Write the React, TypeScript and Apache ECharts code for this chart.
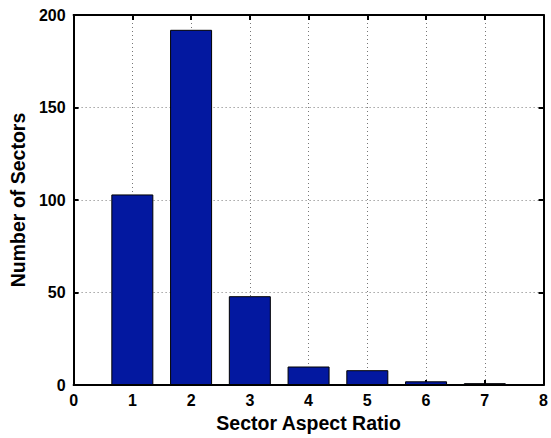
import React, { useEffect, useRef } from "react";
import * as echarts from "echarts";

const categories = [1, 2, 3, 4, 5, 6, 7];
const counts = [103, 192, 48, 10, 8, 2, 1];
const xTicks = [0, 1, 2, 3, 4, 5, 6, 7, 8];
const yTicks = [0, 50, 100, 150, 200];

const FONT = "'Liberation Sans', Arial, sans-serif";

export default function App() {
  const ref = useRef<HTMLDivElement>(null);
  useEffect(() => {
    if (!ref.current) return;
    const chart = echarts.init(ref.current, undefined, { renderer: "svg" });
    const axisCommon = {
      type: "value" as const,
      axisLine: { show: true, onZero: false, lineStyle: { color: "#000", width: 2 } },
      axisTick: { show: true, inside: true, length: 5, lineStyle: { color: "#000", width: 2 } },
    };
    chart.setOption({
      animation: false,
      backgroundColor: "#fff",
      grid: { left: 73, top: 15, width: 473, height: 372, containLabel: false },
      xAxis: [
        {
          ...axisCommon,
          position: "bottom",
          min: xTicks[0],
          max: xTicks[xTicks.length - 1],
          interval: 1,
          axisLabel: { color: "#000", fontFamily: FONT, fontWeight: "bold", fontSize: 16, margin: 7 },
          splitLine: { show: true, lineStyle: { color: "#777", type: [1, 3], width: 1 } },
          name: "Sector Aspect Ratio",
          nameLocation: "middle",
          nameGap: 28,
          nameTextStyle: { color: "#000", fontFamily: FONT, fontWeight: "bold", fontSize: 19.5 },
        },
        {
          ...axisCommon,
          position: "top",
          min: xTicks[0],
          max: xTicks[xTicks.length - 1],
          interval: 1,
          axisLabel: { show: false },
          splitLine: { show: false },
        },
      ],
      yAxis: [
        {
          ...axisCommon,
          position: "left",
          min: yTicks[0],
          max: yTicks[yTicks.length - 1],
          interval: 50,
          axisLabel: { color: "#000", fontFamily: FONT, fontWeight: "bold", fontSize: 16, margin: 8 },
          splitLine: { show: true, lineStyle: { color: "#777", type: [1, 3], width: 1 } },
          name: "Number of Sectors",
          nameLocation: "middle",
          nameGap: 45,
          nameTextStyle: { color: "#000", fontFamily: FONT, fontWeight: "bold", fontSize: 19.5 },
        },
        {
          ...axisCommon,
          position: "right",
          min: yTicks[0],
          max: yTicks[yTicks.length - 1],
          interval: 50,
          axisLabel: { show: false },
          splitLine: { show: false },
        },
      ],
      series: [
        {
          type: "bar",
          xAxisIndex: 0,
          yAxisIndex: 0,
          barWidth: 42,
          data: categories.map((c, i) => [c, counts[i]]),
          itemStyle: { color: "#0318A0", borderColor: "#000", borderWidth: 1 },
        },
      ],
    });
    return () => chart.dispose();
  }, []);
  return <div ref={ref} style={{ width: 551, height: 438, position: "absolute", left: 0, top: 0 }} />;
}
